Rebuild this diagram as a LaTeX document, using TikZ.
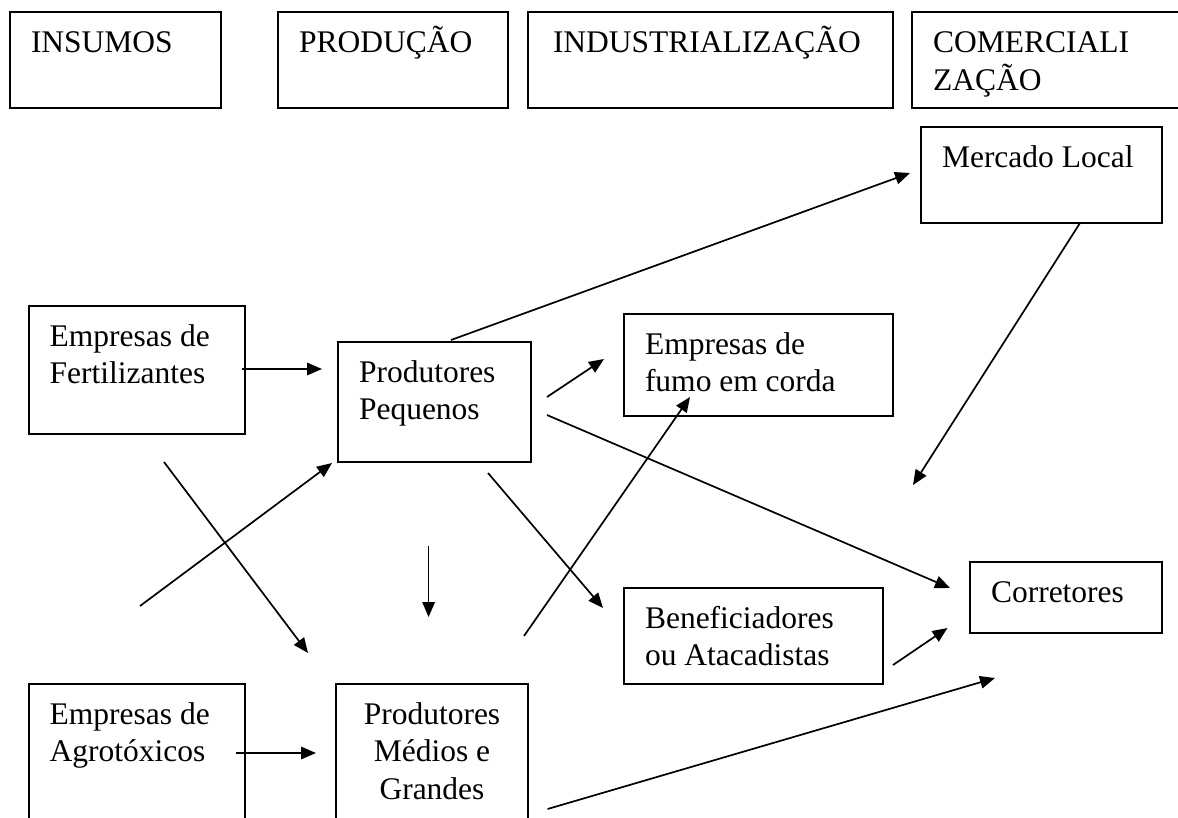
\documentclass[tikz,border=0pt]{standalone}
\usepackage{fontspec}
\setmainfont{Liberation Serif}
\usetikzlibrary{arrows.meta}
\tikzstyle{box}=[draw, line width=2pt, anchor=north west, inner xsep=21pt, inner ysep=13.75pt, outer sep=0pt, font=\fontsize{31.5}{37.5}\selectfont]
\tikzstyle{arr}=[line width=1.7pt, -{Triangle[length=15pt, width=12.5pt]}]
\newcommand{\cell}[4][\raggedright]{\parbox[t][#3][t]{#2}{#1\strut#4}}

\begin{document}
\begin{tikzpicture}[x=1pt, y=-1pt]
    \useasboundingbox (0,0) rectangle (1178,817);

    % etapas
    \node [box] (ins) at (10,12) {\cell{169pt}{68.5pt}{INSUMOS}};
    \node [box] (prod) at (278,12) {\cell{188pt}{68.5pt}{PRODUÇÃO}};
    \node [box] (ind) at (528,12) {\cell{323pt}{68.5pt}{\hspace*{4pt}INDUSTRIALIZAÇÃO}};
    \node [box] (com) at (912,12) {\cell{248pt}{68.5pt}{COMERCIALI\\ZAÇÃO}};

    % agentes
    \node [box] (merc) at (921,127) {\cell{199pt}{68.5pt}{Mercado Local}};
    \node [box] (fert) at (28.7,306) {\cell{174.3pt}{100.5pt}{Empresas de\\Fertilizantes}};
    \node [box] (pp) at (338,342) {\cell{151pt}{92.5pt}{Produtores\\Pequenos}};
    \node [box] (fumo) at (624,314) {\cell{227pt}{74.5pt}{Empresas de\\fumo em corda}};
    \node [box] (ben) at (624,588) {\cell{217pt}{68.5pt}{Beneficiadores\\ou Atacadistas}};
    \node [box] (corr) at (970,562) {\cell{150pt}{43.5pt}{Corretores}};
    \node [box] (agro) at (28.7,684) {\cell{174.3pt}{138.5pt}{Empresas de\\Agrotóxicos}};
    \node [box] (pmg) at (336,684) {\cell[\centering]{150pt}{138.5pt}{Produtores\\Médios e\\Grandes}};

    % pontas das setas
    \coordinate (fertA) at (242,369);   \coordinate (ppA) at (322,369);
    \coordinate (freeA) at (140,606);   \coordinate (ppB) at (332,463);
    \coordinate (fertB) at (164,462);   \coordinate (pmgA) at (308,653);
    \coordinate (freeB) at (428.6,546); \coordinate (freeC) at (428.6,617);
    \coordinate (ppC) at (451,340);     \coordinate (mercA) at (910,173);
    \coordinate (ppD) at (547,397);     \coordinate (fumoA) at (604,359);
    \coordinate (ppE) at (547,415);     \coordinate (corrA) at (950,588);
    \coordinate (ppF) at (488,473);     \coordinate (benA) at (603,608);
    \coordinate (mercB) at (1080,223);  \coordinate (freeD) at (913,485);
    \coordinate (pmgB) at (524,636);    \coordinate (fumoB) at (690,397);
    \coordinate (benB) at (893,665);    \coordinate (corrB) at (947.5,628);
    \coordinate (pmgC) at (547.6,809);  \coordinate (corrC) at (995,678);
    \coordinate (agroA) at (236,753);   \coordinate (pmgD) at (316,753);

    \draw[arr] (fertA) -- (ppA);
    \draw[arr] (freeA) -- (ppB);
    \draw[arr] (fertB) -- (pmgA);
    \draw[arr] (freeB) -- (freeC);
    \draw[arr] (ppC) -- (mercA);
    \draw[arr] (ppD) -- (fumoA);
    \draw[arr] (ppE) -- (corrA);
    \draw[arr] (ppF) -- (benA);
    \draw[arr] (mercB) -- (freeD);
    \draw[arr] (pmgB) -- (fumoB);
    \draw[arr] (benB) -- (corrB);
    \draw[arr] (pmgC) -- (corrC);
    \draw[arr] (agroA) -- (pmgD);
\end{tikzpicture}
\end{document}
